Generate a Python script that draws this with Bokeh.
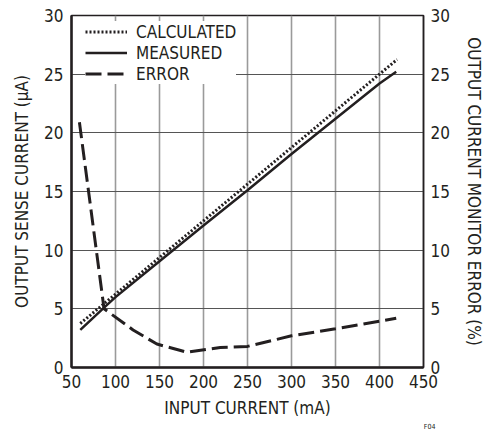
from bokeh.plotting import figure
from bokeh.models import Range1d, LinearAxis, FixedTicker, Legend, LegendItem, Title
from bokeh.embed import file_html
from bokeh.resources import INLINE

# ---- data ----
calc_x = [60, 100, 150, 200, 250, 300, 350, 400, 420]
calc_y = [3.75, 6.25, 9.375, 12.5, 15.625, 18.75, 21.875, 25.0, 26.25]

meas_x = [60, 87, 100, 150, 200, 250, 300, 350, 400, 419]
meas_y = [3.2, 5.1, 6.0, 9.05, 12.1, 15.1, 18.2, 21.2, 24.2, 25.2]

err_x = [59, 87, 120, 147, 174, 181, 219, 250, 300, 350, 400, 419]
err_y = [20.9, 5.0, 3.2, 2.0, 1.45, 1.3, 1.7, 1.8, 2.7, 3.3, 3.95, 4.2]

x_ticks = [50, 100, 150, 200, 250, 300, 350, 400, 450]
y_ticks = [0, 5, 10, 15, 20, 25, 30]

FONT = "'DejaVu Sans Condensed', 'DejaVu Sans'"
INK = "#231f20"
FS = "17px"

p = figure(width=486, height=430, output_backend="svg", toolbar_location=None,
           x_range=Range1d(50, 450), y_range=Range1d(0, 30),
           min_border_left=71, min_border_right=63, min_border_top=15, min_border_bottom=0)
p.extra_y_ranges = {"err": Range1d(0, 30)}
p.outline_line_color = INK
p.outline_line_width = 1.5
p.background_fill_color = "white"
p.border_fill_color = "white"

# grids
p.xgrid.ticker = FixedTicker(ticks=x_ticks)
p.ygrid.ticker = FixedTicker(ticks=y_ticks)
p.xgrid.grid_line_color = "#9a9a9a"
p.xgrid.grid_line_width = 1.6
p.ygrid.grid_line_color = "#555555"
p.ygrid.grid_line_width = 1.0

# axes
def style_axis(ax, label):
    ax.axis_label = label
    ax.axis_label_text_font = FONT
    ax.axis_label_text_font_size = FS
    ax.axis_label_text_font_style = "normal"
    ax.axis_label_text_color = INK
    ax.major_label_text_font = FONT
    ax.major_label_text_font_size = FS
    ax.major_label_text_color = INK
    ax.major_tick_in = 0
    ax.major_tick_out = 0
    ax.minor_tick_in = 0
    ax.minor_tick_out = 0
    ax.axis_line_color = INK
    ax.axis_line_width = 2.5

p.xaxis.ticker = FixedTicker(ticks=x_ticks)
p.yaxis.ticker = FixedTicker(ticks=y_ticks)
style_axis(p.xaxis[0], "INPUT CURRENT (mA)")
style_axis(p.yaxis[0], "OUTPUT SENSE CURRENT (μA)")
p.xaxis.major_label_standoff = 7
p.yaxis.major_label_standoff = 8
p.xaxis.axis_label_standoff = 7
p.yaxis.axis_label_standoff = 9

right = LinearAxis(y_range_name="err", ticker=FixedTicker(ticks=y_ticks))
style_axis(right, "OUTPUT CURRENT MONITOR ERROR (%)")
right.axis_line_width = 1.5
right.major_label_standoff = 7
right.axis_label_standoff = 11
p.add_layout(right, "right")

# lines
r_calc = p.line(calc_x, calc_y, line_color=INK, line_width=3, line_dash="2 2", line_cap="butt")
r_meas = p.line(meas_x, meas_y, line_color=INK, line_width=2.5)
r_err = p.line(err_x, err_y, y_range_name="err", line_color=INK, line_width=3,
               line_dash="16 6", line_cap="butt")

legend = Legend(items=[LegendItem(label="CALCULATED", renderers=[r_calc]),
                       LegendItem(label="MEASURED", renderers=[r_meas]),
                       LegendItem(label="ERROR", renderers=[r_err])],
                location=(14, 283))
legend.label_text_font = FONT
legend.label_text_font_size = FS
legend.label_text_color = INK
legend.border_line_color = None
legend.background_fill_color = "white"
legend.background_fill_alpha = 1.0
legend.glyph_width = 42
legend.glyph_height = 21
legend.label_height = 21
legend.label_standoff = 9
legend.spacing = 0
legend.padding = 3
legend.margin = 0
p.add_layout(legend)

p.add_layout(Title(text="F04", align="right", offset=-12, standoff=0, text_font=FONT,
                   text_font_size="7px", text_font_style="normal", text_color=INK),
             "below")

open("out.html", "w").write(file_html(p, INLINE))
